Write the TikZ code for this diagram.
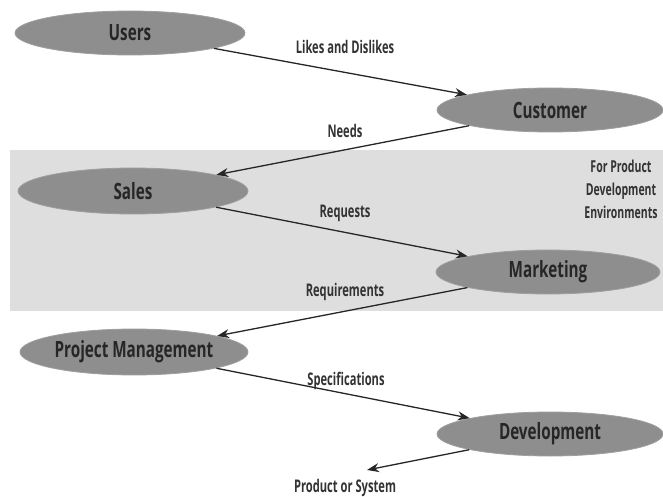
\documentclass[tikz,border=0pt]{standalone}
\usepackage{fontspec}
\usetikzlibrary{shapes.geometric,arrows.meta}
\newfontfamily\narrowfont[FakeStretch=0.68]{Open Sans}
\newfontfamily\labelfont[FakeStretch=0.64]{Open Sans}
\definecolor{bandgray}{HTML}{DEDEDE}
\definecolor{ovalgray}{HTML}{8E8E8E}
\definecolor{inkgray}{HTML}{262626}
\definecolor{labelgray}{HTML}{333333}
\tikzset{
  stage/.style={ellipse, fill=ovalgray, draw=ovalgray!85!white, line width=0.8bp,
    inner sep=0pt, text=inkgray, font=\narrowfont\bfseries\fontsize{22.5}{24}\selectfont},
  flow/.style={draw=inkgray, line width=1.3bp, -{Stealth[length=12bp,width=9bp]}},
  flowlabel/.style={text=labelgray, font=\labelfont\bfseries\fontsize{17.5}{20}\selectfont, inner sep=0pt}
}
\begin{document}
\begin{tikzpicture}[x=1bp,y=-1bp]
  \useasboundingbox (0,0) rectangle (663,497);
  % shaded band behind the product development stages
  \fill[bandgray] (10,150) rectangle (663,311);

  % stages
  \node[stage, minimum width=230bp, minimum height=44bp] (users) at (130,33) {Users};
  \node[stage, minimum width=226bp, minimum height=44bp] (customer) at (550,110) {Customer};
  \node[stage, minimum width=230bp, minimum height=46bp] (sales) at (133,191) {Sales};
  \node[stage, minimum width=224bp, minimum height=44bp] (marketing) at (548,272) {Marketing};
  \node[stage, minimum width=228bp, minimum height=46bp] (pm) at (134,352) {Project Management};
  \node[stage, minimum width=226bp, minimum height=44bp] (dev) at (550,434) {Development};
  \coordinate (result) at (367,470);

  % flows between stages
  \draw[flow] (users) -- (customer);
  \draw[flow] (customer) -- (sales);
  \draw[flow] (sales) -- (marketing);
  \draw[flow] (marketing) -- (pm);
  \draw[flow] (pm) -- (dev);
  \draw[flow] (dev.191) -- (result);

  % flow labels
  \node[flowlabel] (l1) at (345,47) {Likes and Dislikes};
  \node[flowlabel] (l2) at (345,131) {Needs};
  \node[flowlabel] (l3) at (345,213) {Requests};
  \node[flowlabel] (l4) at (345,292) {Requirements};
  \node[flowlabel] (l5) at (346,381) {Specifications};
  \node[flowlabel] (l6) at (345,488) {Product or System};
  \node[flowlabel, align=center, font=\labelfont\bfseries\fontsize{16.5}{23}\selectfont] (band) at (621,189)
    {For Product\\Development\\Environments};
\end{tikzpicture}
\end{document}
